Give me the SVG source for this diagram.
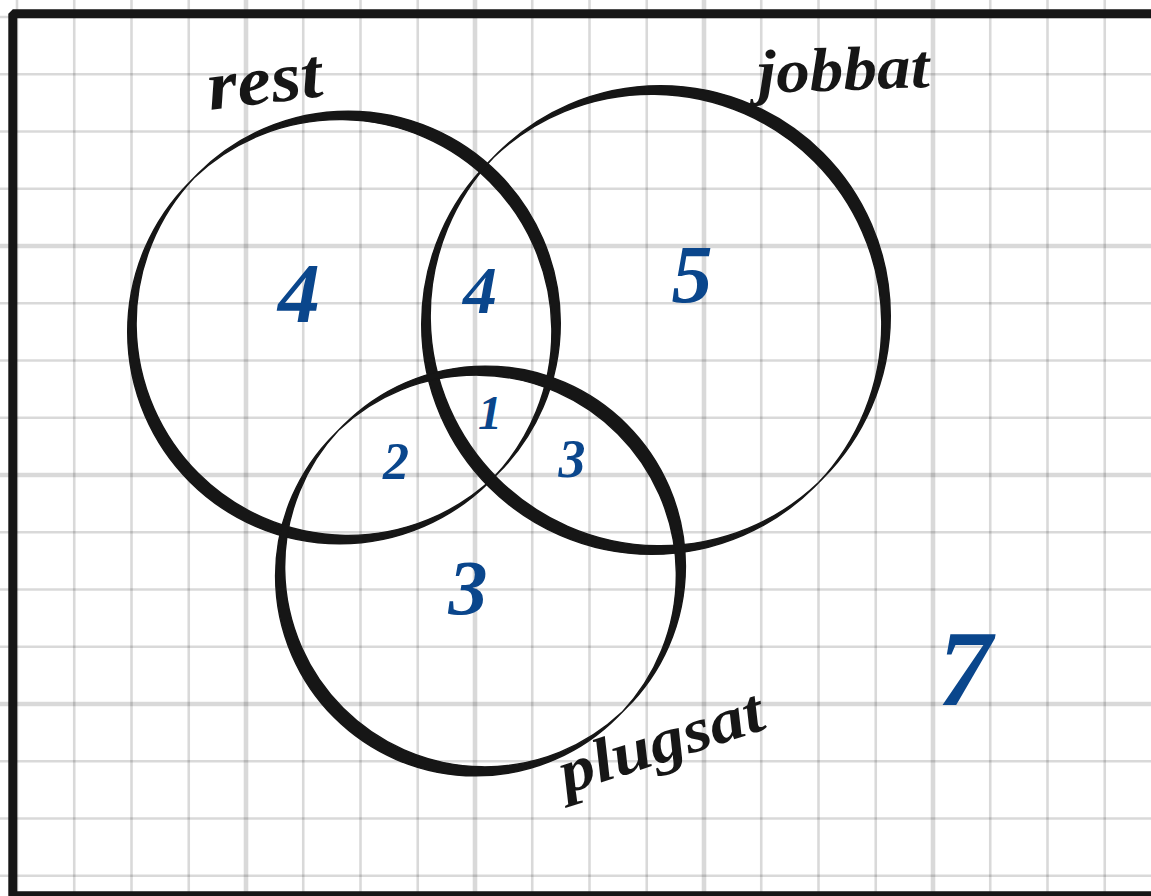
<svg xmlns="http://www.w3.org/2000/svg" width="1151" height="896" viewBox="0 0 1151 896">
<style>
.g{stroke:#000;stroke-opacity:0.15;stroke-width:2.6;fill:none}
.gt{stroke:#000;stroke-opacity:0.15;stroke-width:4.6;fill:none}
.ring{fill:#161616;fill-rule:evenodd;stroke:#161616;stroke-width:1.4;stroke-linejoin:round}
.lbl{font-family:"Liberation Serif","DejaVu Serif",serif;font-style:italic;font-weight:bold;fill:#161616}
.num{font-family:"Liberation Serif","DejaVu Serif",serif;font-style:italic;font-weight:bold;fill:#0a468c;text-anchor:middle}
</style>
<rect width="1151" height="896" fill="#ffffff"/>
<g id="grid">
<path class="g" d="M17 0V896M74.25 0V896M131.5 0V896M188.75 0V896M303.25 0V896M360.5 0V896M417.75 0V896M532.25 0V896M589.5 0V896M646.75 0V896M761.25 0V896M818.5 0V896M875.75 0V896M990.25 0V896M1047.5 0V896M1104.75 0V896"/>
<path class="gt" d="M246 0V896M475 0V896M704 0V896M933 0V896"/>
<path class="g" d="M0 17H1151M0 74.25H1151M0 131.5H1151M0 188.75H1151M0 303.25H1151M0 360.5H1151M0 417.75H1151M0 532.25H1151M0 589.5H1151M0 646.75H1151M0 761.25H1151M0 818.5H1151M0 875.75H1151"/>
<path class="gt" d="M0 246H1151M0 475H1151M0 704H1151"/>
</g>
<rect id="frame" x="12.8" y="13.8" width="1300" height="882" fill="none" stroke="#161616" stroke-width="9" stroke-linejoin="bevel"/>
<g id="rest">
<path class="ring" transform="translate(344,327.5)" d="M154.21 145.61A212 212 0 1 0 -145.61 -154.21L-154.21 -145.61A212 212 0 1 0 145.61 154.21ZM149.85 149.85A212 212 0 0 1 -149.85 -149.85A212 212 0 0 1 149.85 149.85Z"/>
<text class="lbl" x="210" y="110" font-size="70" textLength="115" lengthAdjust="spacingAndGlyphs" transform="rotate(-7 210 110)">rest</text>
</g>
<g id="jobbat">
<path class="ring" transform="translate(656,320)" d="M166.94 158.34A230 230 0 1 0 -158.34 -166.94L-166.94 -158.34A230 230 0 1 0 158.34 166.94ZM162.58 162.58A230 230 0 0 1 -162.58 -162.58A230 230 0 0 1 162.58 162.58Z"/>
<text class="lbl" x="758" y="93" font-size="62" textLength="172" lengthAdjust="spacingAndGlyphs" transform="rotate(-2 758 93)">jobbat</text>
</g>
<g id="plugsat">
<path class="ring" transform="translate(480.5,571)" d="M145.72 137.12A200 200 0 1 0 -137.12 -145.72L-145.72 -137.12A200 200 0 1 0 137.12 145.72ZM141.36 141.36A200 200 0 0 1 -141.36 -141.36A200 200 0 0 1 141.36 141.36Z"/>
<text class="lbl" x="566" y="794" font-size="62" textLength="212" lengthAdjust="spacingAndGlyphs" transform="rotate(-18 566 794)">plugsat</text>
</g>
<g id="counts">
<text class="num" x="299" y="322" font-size="84">4</text>
<text class="num" x="480" y="313" font-size="68">4</text>
<text class="num" x="692" y="302" font-size="82">5</text>
<text class="num" x="490" y="429" font-size="48">1</text>
<text class="num" x="396" y="479" font-size="52">2</text>
<text class="num" x="572" y="477" font-size="54">3</text>
<text class="num" x="468" y="614" font-size="78">3</text>
<text class="num" x="965" y="705" font-size="108">7</text>
</g>
<g id="connectors"/>
</svg>
